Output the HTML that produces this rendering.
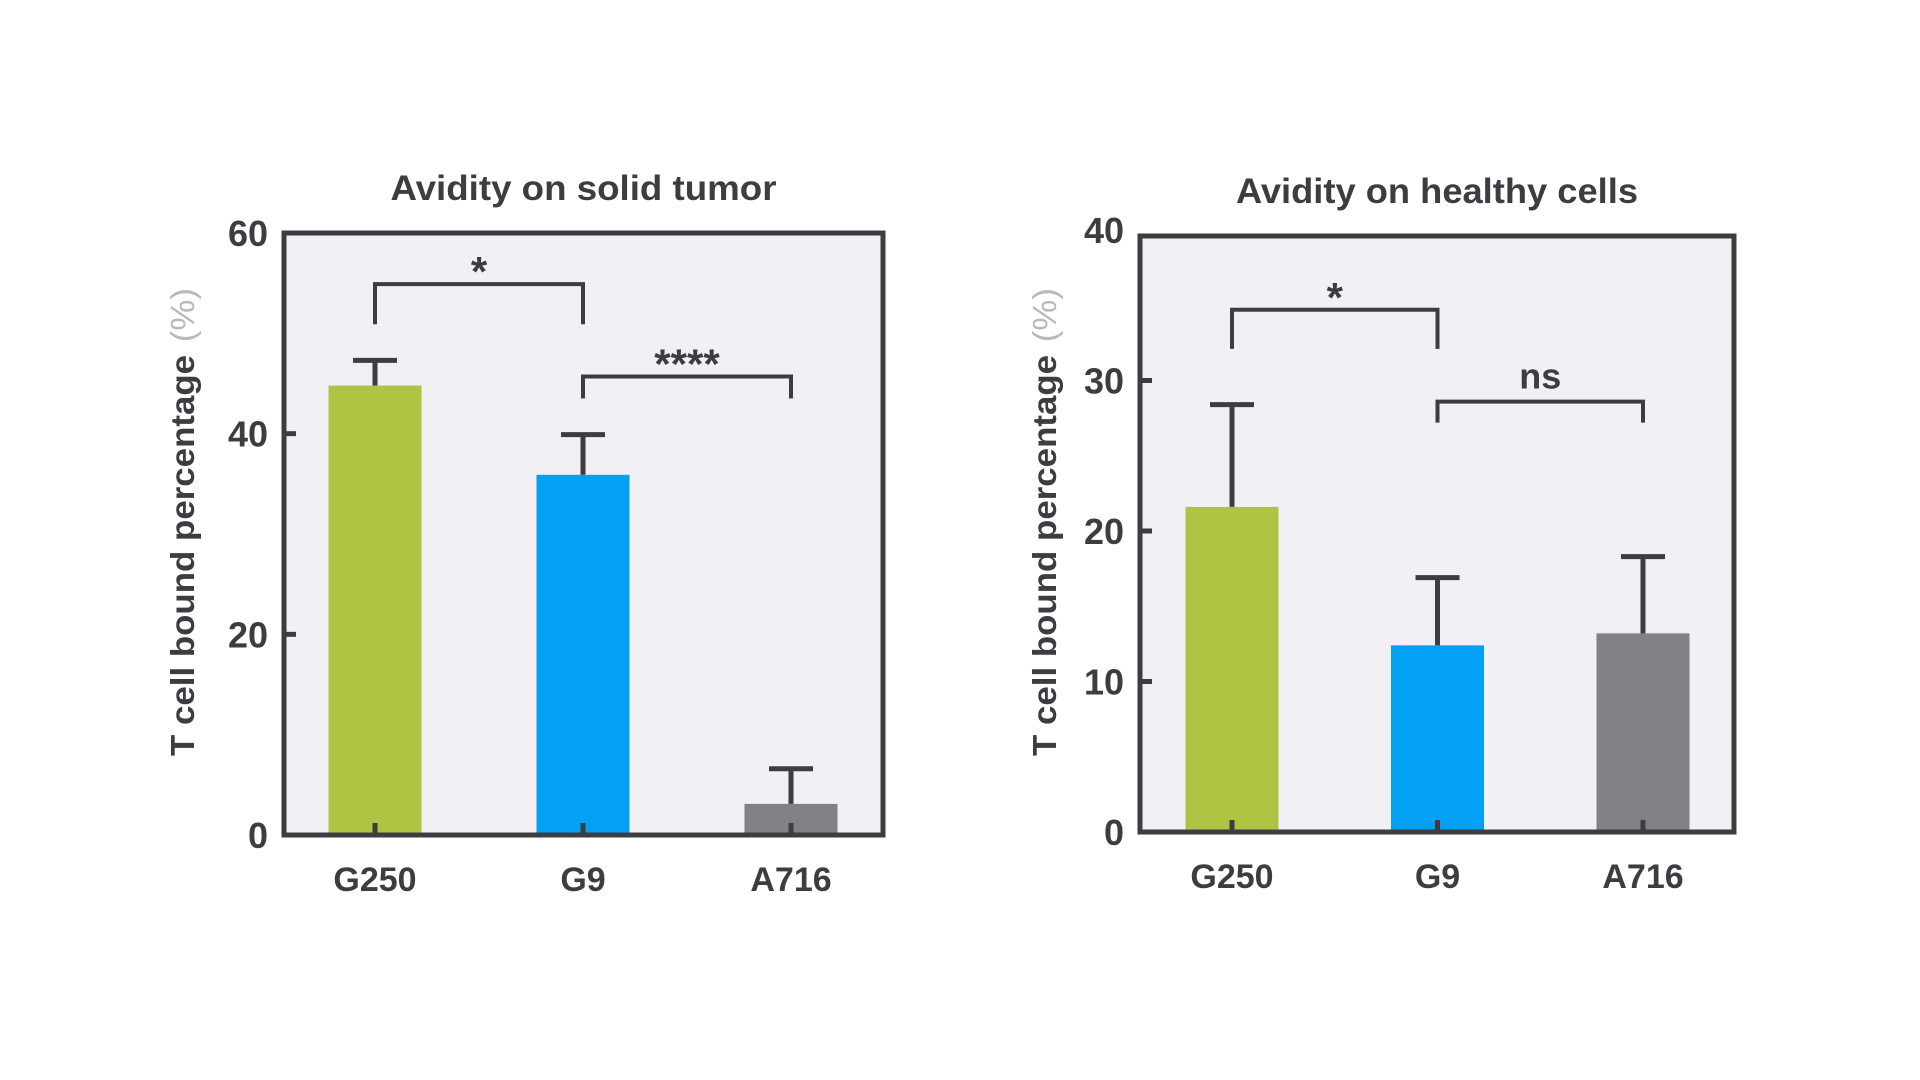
<!DOCTYPE html>
<html><head><meta charset="utf-8"><style>
html,body{margin:0;padding:0;background:#fff;}
svg{display:block;font-family:"Liberation Sans",Arial,sans-serif;}
</style></head><body>
<svg id="fig" width="1920" height="1080" viewBox="0 0 1920 1080"></svg>
<script>
// Chart A: solid tumor
const categories = ["G250","G9","A716"];
const tumorValues = [44.8, 35.9, 3.1];
const tumorErrors = [2.5, 4.0, 3.5];
const tumorTicks = [0,20,40,60];
// Chart B: healthy cells
const healthyValues = [21.6, 12.4, 13.2];
const healthyErrors = [6.8, 4.5, 5.1];
const healthyTicks = [0,10,20,30,40];
const tumorSig = [{a:0,b:1,y:54.9,leg:50.9,label:"*"},{a:1,b:2,y:45.7,leg:43.5,label:"****"}];
const healthySig = [{a:0,b:1,y:34.7,leg:32.1,label:"*"},{a:1,b:2,y:28.6,leg:27.2,label:"ns"}];

const NS="http://www.w3.org/2000/svg";
const svg=document.getElementById('fig');
const DARK="#3d3c41";
const colors=["#aec443","#03a0f4","#828186"];
function mk(tag,attrs,parent){const e=document.createElementNS(NS,tag);for(const k in attrs)e.setAttribute(k,attrs[k]);(parent||svg).appendChild(e);return e;}

function drawChart(cfg){
  const g=mk('g',{});
  
  
  const y=v=>cfg.y0-(v/cfg.max)*(cfg.y0-cfg.yScaleTop);
  const x=i=>cfg.x0+cfg.firstOff+i*cfg.step;
  const bg=mk('rect',{x:cfg.x0,y:cfg.yTop,width:cfg.x1-cfg.x0,height:cfg.y0-cfg.yTop,fill:"#f2f0f4"},g);
  
  
  const bw=93;
  cfg.values.forEach((v,i)=>{
    const r=mk('rect',{x:x(i)-bw/2,y:y(v),width:bw,height:cfg.y0-y(v),fill:colors[i]},g);
    
    
    const e=mk('path',{d:`M${x(i)} ${y(v)} V${y(v+cfg.errors[i])} M${x(i)-22} ${y(v+cfg.errors[i])} H${x(i)+22}`,stroke:DARK,'stroke-width':5,fill:'none'},g);
    
    
    const t=mk('line',{x1:x(i),x2:x(i),y1:cfg.y0,y2:cfg.y0-12,stroke:DARK,'stroke-width':5},g);
    
    
    const l=mk('text',{x:x(i),y:cfg.y0+56,'text-anchor':'middle','font-size':34,'font-weight':'bold',fill:DARK},g);
    l.textContent=categories[i];
    
    
  });
  cfg.ticks.forEach(tv=>{
    const ty=Math.max(y(tv),cfg.yTop);
    const t=mk('line',{x1:cfg.x0,x2:cfg.x0+12,y1:ty,y2:ty,stroke:DARK,'stroke-width':5},g);
    
    
    const l=mk('text',{x:cfg.x0-16,y:y(tv)+13,'text-anchor':'end','font-size':36,'font-weight':'bold',fill:DARK},g);
    l.textContent=tv;
    
    
  });
  cfg.sig.forEach(s=>{
    const p=mk('path',{d:`M${x(s.a)} ${y(s.leg)} V${y(s.y)} H${x(s.b)} V${y(s.leg)}`,stroke:DARK,'stroke-width':4,fill:'none'},g);
    
    
    const ly=s.label==="ns"? y(s.y)-13 : y(s.y)+2;
    const t=mk('text',{x:(x(s.a)+x(s.b))/2,y:ly,'text-anchor':'middle','font-size':s.label==="ns"?36:42,'font-weight':'bold',fill:DARK},g);
    t.textContent=s.label;
    
    
  });
  const fr=mk('rect',{x:cfg.x0,y:cfg.yTop,width:cfg.x1-cfg.x0,height:cfg.y0-cfg.yTop,fill:'none',stroke:DARK,'stroke-width':5},g);
  
  
  const ti=mk('text',{x:(cfg.x0+cfg.x1)/2,y:cfg.yTop-33,'text-anchor':'middle','font-size':35,'font-weight':'bold',fill:DARK,textLength:cfg.titleLen,lengthAdjust:'spacingAndGlyphs'},g);
  ti.textContent=cfg.title;
  
  
  const yt=mk('text',{x:0,y:0,transform:`translate(${cfg.yTitleX},756) rotate(-90)`,'font-size':33,'font-weight':'bold',fill:DARK},g);
  
  
  const s1=mk('tspan',{},yt);s1.textContent="T cell bound percentage";
  const s2=mk('tspan',{fill:'#b8b7bb','font-weight':'normal',dx:12},yt);s2.textContent="(%)";
  yt.setAttribute('textLength',468);
  yt.setAttribute('lengthAdjust','spacingAndGlyphs');
}
drawChart({name:'chart-solid-tumor',x0:284,x1:883,yTop:233,yScaleTop:233,y0:835,max:60,firstOff:91,step:208,values:tumorValues,errors:tumorErrors,ticks:tumorTicks,sig:tumorSig,title:"Avidity on solid tumor",titleLen:386,yTitleX:194});
drawChart({name:'chart-healthy-cells',x0:1140,x1:1734,yTop:236,yScaleTop:230,y0:832,max:40,firstOff:92,step:205.5,values:healthyValues,errors:healthyErrors,ticks:healthyTicks,sig:healthySig,title:"Avidity on healthy cells",titleLen:402,yTitleX:1056});
</script>
</body></html>
